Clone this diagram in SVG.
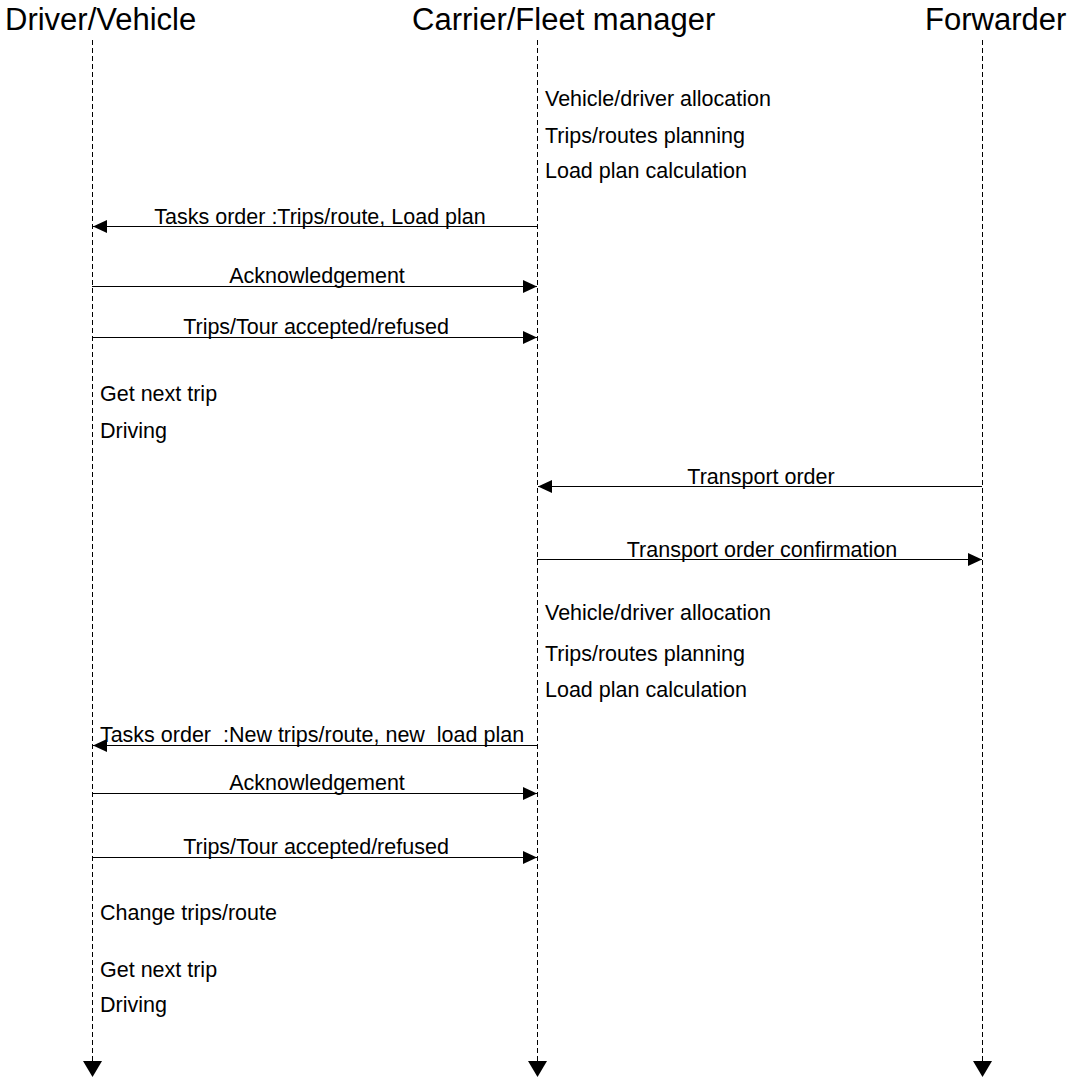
<svg xmlns="http://www.w3.org/2000/svg" width="1069" height="1079" viewBox="0 0 1069 1079">
<style>
.hdr{font-family:"Liberation Sans",Arial,sans-serif;font-size:31px;fill:#000}
.lbl{font-family:"Liberation Sans",Arial,sans-serif;font-size:21.5px;fill:#000;white-space:pre}
.mid{text-anchor:middle}
.life{stroke:#000;stroke-width:1;stroke-dasharray:5,3;fill:none}
.msg{stroke:#000;stroke-width:1;fill:none;marker-end:url(#ah)}
</style>
<defs>
<marker id="ah" markerUnits="userSpaceOnUse" markerWidth="14" markerHeight="13" refX="14" refY="6.5" orient="auto" overflow="visible">
<path d="M0,0 L14,6.5 L0,13 z" fill="#000"/>
</marker>
<marker id="lh" markerUnits="userSpaceOnUse" markerWidth="16" markerHeight="19" refX="0" refY="9.5" orient="auto" overflow="visible">
<path d="M0,0 L16,9.5 L0,19 z" fill="#000"/>
</marker>
</defs>
<g id="driver">
<text class="hdr" x="5" y="30">Driver/Vehicle</text>
<line class="life" x1="92.5" y1="40" x2="92.5" y2="1061" marker-end="url(#lh)"/>
</g>
<g id="carrier">
<text class="hdr" x="412" y="30">Carrier/Fleet manager</text>
<line class="life" x1="537.5" y1="40" x2="537.5" y2="1061" marker-end="url(#lh)"/>
</g>
<g id="forwarder">
<text class="hdr" x="925" y="30">Forwarder</text>
<line class="life" x1="982.5" y1="40" x2="982.5" y2="1061" marker-end="url(#lh)"/>
</g>
<g id="notes">
<text class="lbl" x="545" y="106">Vehicle/driver allocation</text>
<text class="lbl" x="545" y="143">Trips/routes planning</text>
<text class="lbl" x="545" y="178">Load plan calculation</text>
<text class="lbl" x="100" y="401">Get next trip</text>
<text class="lbl" x="100" y="438">Driving</text>
<text class="lbl" x="545" y="620">Vehicle/driver allocation</text>
<text class="lbl" x="545" y="661">Trips/routes planning</text>
<text class="lbl" x="545" y="697">Load plan calculation</text>
<text class="lbl" x="100" y="920">Change trips/route</text>
<text class="lbl" x="100" y="977">Get next trip</text>
<text class="lbl" x="100" y="1012">Driving</text>
</g>
<g id="connectors">
<line class="msg" x1="537" y1="226.5" x2="93" y2="226.5"/>
<text class="lbl mid" x="320" y="224">Tasks order :Trips/route, Load plan</text>
<line class="msg" x1="92" y1="286.5" x2="537" y2="286.5"/>
<text class="lbl mid" x="317" y="283">Acknowledgement</text>
<line class="msg" x1="92" y1="337.5" x2="537" y2="337.5"/>
<text class="lbl mid" x="316" y="334">Trips/Tour accepted/refused</text>
<line class="msg" x1="982" y1="486.5" x2="538" y2="486.5"/>
<text class="lbl mid" x="761" y="484">Transport order</text>
<line class="msg" x1="537" y1="559.5" x2="982" y2="559.5"/>
<text class="lbl mid" x="762" y="557">Transport order confirmation</text>
<line class="msg" x1="537" y1="745.5" x2="93" y2="745.5"/>
<text class="lbl mid" x="312" y="742">Tasks order  :New trips/route, new  load plan</text>
<line class="msg" x1="92" y1="793.5" x2="537" y2="793.5"/>
<text class="lbl mid" x="317" y="790">Acknowledgement</text>
<line class="msg" x1="92" y1="857.5" x2="537" y2="857.5"/>
<text class="lbl mid" x="316" y="854">Trips/Tour accepted/refused</text>
</g>
</svg>
